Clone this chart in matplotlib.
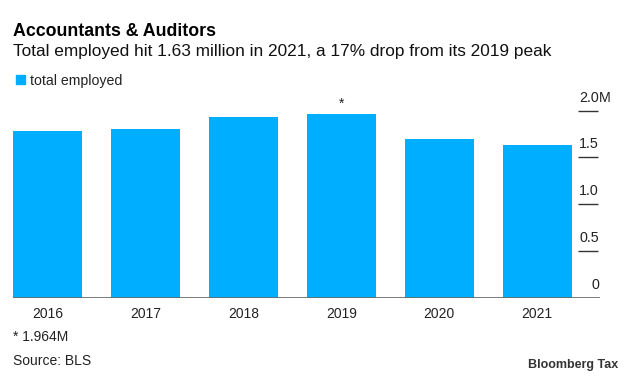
import matplotlib.pyplot as plt
from matplotlib.patches import Rectangle

plt.rcParams['font.family'] = ['Liberation Sans', 'DejaVu Sans']

# data (millions)
years = ['2016', '2017', '2018', '2019', '2020', '2021']
employed = [1.78, 1.80, 1.93, 1.964, 1.70, 1.63]
ytick_vals = [0, 0.5, 1.0, 1.5, 2.0]
ytick_labels = ['0', '0.5', '1.0', '1.5', '2.0']

blue = '#00aeff'
W, H = 633, 380

fig = plt.figure(figsize=(6.33, 3.8), dpi=100)
ax = fig.add_axes([13 / W, 1 - 297.7 / H, (600 - 13) / W, (297.7 - 90) / H])

x = list(range(len(years)))
ax.bar(x, employed, width=0.70, color=blue, zorder=2)

ax.set_xlim(-0.35, 5.64)
ax.set_ylim(0, 2.221)

# baseline
ax.axhline(0, color='#666666', lw=1.2, zorder=3)

# short gridlines + labels on the right
for v, lab in zip(ytick_vals, ytick_labels):
    if v > 0:
        ax.hlines(v, 5.419, 5.623, color='#333333', lw=1.0)
    ax.text(5.63, v + 0.14, lab, ha='right', va='center', fontsize=10.3, color='#222222')
ax.text(5.63, 2.0 + 0.14, 'M', ha='left', va='center', fontsize=10.3, color='#222222')

# asterisk over the peak
ax.text(3, employed[3] + 0.11, '*', ha='center', va='center', fontsize=10, color='#222222')

ax.set_xticks(x)
ax.set_xticklabels(years, fontsize=10, color='#222222')
ax.tick_params(axis='x', length=0, pad=7)
ax.set_yticks([])
for s in ax.spines.values():
    s.set_visible(False)

# header
fig.text(13 / W, 1 - 36 / H, 'Accountants & Auditors', fontsize=12.8, fontweight='bold',
         va='baseline', ha='left', color='black')
fig.text(13 / W, 1 - 56 / H, 'Total employed hit 1.63 million in 2021, a 17% drop from its 2019 peak',
         fontsize=12.4, va='baseline', ha='left', color='#111111')

# legend
fig.patches.append(Rectangle((16 / W, 1 - 84 / H), 9 / W, 9 / H, transform=fig.transFigure,
                             color=blue, figure=fig))
fig.text(30 / W, 1 - 81 / H, 'total employed', fontsize=10.2, va='center', ha='left', color='#222222')

# footer
fig.text(13 / W, 1 - 337 / H, '* 1.964M', fontsize=10, va='center', ha='left', color='#222222')
fig.text(13 / W, 1 - 361 / H, 'Source: BLS', fontsize=10, va='center', ha='left', color='#222222')
fig.text(618 / W, 1 - 365 / H, 'Bloomberg Tax', fontsize=9, fontweight='bold',
         va='center', ha='right', color='#333333')

fig.savefig('out.png', dpi=100)
